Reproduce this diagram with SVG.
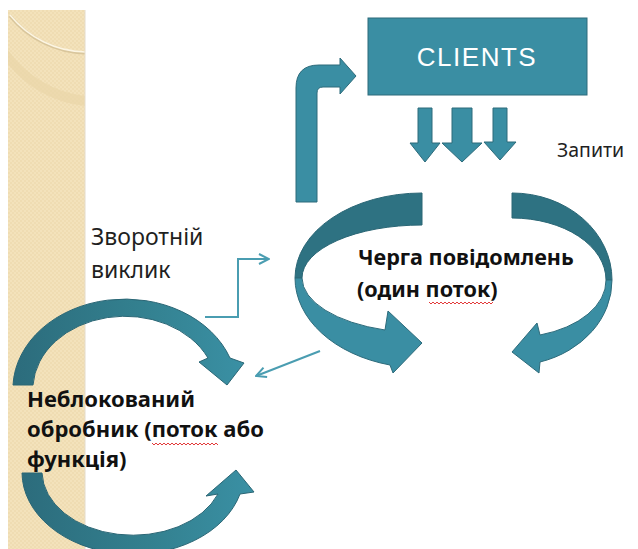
<svg xmlns="http://www.w3.org/2000/svg" width="638" height="549" viewBox="0 0 638 549">
  <defs>
    <pattern id="paper" width="4" height="4" patternUnits="userSpaceOnUse">
      <rect width="4" height="4" fill="#f3e2bb"/>
      <rect width="2" height="2" fill="#efdcb2"/>
      <rect x="2" y="2" width="2" height="2" fill="#efdcb2"/>
    </pattern>
    <linearGradient id="ribbonLR" x1="0" y1="0" x2="1" y2="0">
      <stop offset="0" stop-color="#2c6c7c"/>
      <stop offset="0.55" stop-color="#33808f"/>
      <stop offset="1" stop-color="#3a90a4"/>
    </linearGradient>
    <marker id="open" viewBox="0 0 12 12" refX="11" refY="6" markerWidth="12" markerHeight="12" markerUnits="userSpaceOnUse" orient="auto">
      <path d="M1,1 L11,6 L1,11" fill="none" stroke="#4a9db1" stroke-width="2"/>
    </marker>
    <style>
      .shape { fill: #3a8ea3; stroke: #2d6b7b; stroke-width: 1; }
      .back { fill: #2e7282; stroke: #2a6675; stroke-width: 1; }
      .grad { fill: url(#ribbonLR); stroke: #2a6675; stroke-width: 1; }
      .thin { fill: none; stroke: #4a9db1; stroke-width: 2; }
      .lbl { font-family: "Noto Sans", "Open Sans", "Liberation Sans", sans-serif; fill: #1f1f1f; }
      .bold { font-weight: bold; fill: #111; }
      .squiggle { fill: none; stroke: #e23a3a; stroke-width: 1; }
    </style>
  </defs>

  <!-- page background with the textured side strip -->
  <g id="background">
    <rect width="638" height="549" fill="#ffffff"/>
    <rect x="8" y="10" width="77" height="539" fill="url(#paper)"/>
    <path d="M8,50 A110,110 0 0 0 85,96 L85,106 A112,112 0 0 1 8,64 Z" fill="#e9d5a8" opacity="0.7"/>
    <path d="M10,16 A100,100 0 0 0 85,53" fill="none" stroke="#d9c69c" stroke-width="3"/>
    <path d="M10,15 A100,100 0 0 0 85,52" fill="none" stroke="#fcf5e2" stroke-width="1.5"/>
    <line x1="85" y1="10" x2="85" y2="549" stroke="#e4dccb" stroke-width="1"/>
  </g>

  <!-- clients box -->
  <g id="node-clients">
    <rect x="368" y="18" width="219" height="77" class="shape"/>
    <text x="477" y="66" text-anchor="middle" font-family="'Liberation Sans', Arial, sans-serif" font-size="26" letter-spacing="1.5" fill="#ffffff">CLIENTS</text>
  </g>

  <!-- message queue: two ribbon arrows around the label -->
  <g id="node-queue">
    <path class="back" d="M422,193 A127,85 0 0 0 295,278 L302,278 A120,53 0 0 1 422,225 Z"/>
    <path class="shape" d="M295,278 A127,90 0 0 0 390,365 L393,373 L422,343 L388,311 L385,330 A120,55 0 0 1 302,278 Z"/>
    <path class="back" d="M512,193 A100,87 0 0 1 612,280 L606,280 A94,62 0 0 0 512,218 Z"/>
    <path class="shape" d="M612,280 A100,85 0 0 1 540,362 L539,373 L512,352 L537,323 L540,335 A94,57 0 0 0 606,280 Z"/>
    <text class="lbl bold" font-size="21.6" x="358" y="265">Черга повідомлень</text>
    <text class="lbl bold" font-size="21.6" x="357" y="297">(один поток)</text>
    <path class="squiggle" d="M429,302 l2,2 l2,-2 l2,2 l2,-2 l2,2 l2,-2 l2,2 l2,-2 l2,2 l2,-2 l2,2 l2,-2 l2,2 l2,-2 l2,2 l2,-2 l2,2 l2,-2 l2,2 l2,-2 l2,2 l2,-2 l2,2 l2,-2 l2,2 l2,-2 l2,2 l2,-2 l2,2 l2,-2 l2,2 l2,-2"/>
  </g>

  <!-- non-blocking handler: two ribbon arrows around the label -->
  <g id="node-handler">
    <path class="grad" d="M13,385 A112,90 0 0 1 230,358 L244,363 L227,385 L199,362 L208,358 A92,73 0 0 0 33,385 Z"/>
    <path class="grad" d="M22,473 A111,82 0 0 0 240,494 L254,492 L236,470 L206,496 L218,494 A91,64 0 0 1 42,473 Z"/>
    <text class="lbl bold" font-size="22" x="27" y="407">Неблокований</text>
    <text class="lbl bold" font-size="22" x="27" y="437">обробник (поток або</text>
    <text class="lbl bold" font-size="22" x="27" y="467">функція)</text>
    <path class="squiggle" d="M152,443 l2,2 l2,-2 l2,2 l2,-2 l2,2 l2,-2 l2,2 l2,-2 l2,2 l2,-2 l2,2 l2,-2 l2,2 l2,-2 l2,2 l2,-2 l2,2 l2,-2 l2,2 l2,-2 l2,2 l2,-2 l2,2 l2,-2 l2,2 l2,-2 l2,2 l2,-2 l2,2 l2,-2 l2,2 l2,-2 l2,2"/>
  </g>

  <!-- free-standing labels -->
  <g id="label-requests">
    <text class="lbl" font-size="19.5" x="557" y="157">Запити</text>
  </g>
  <g id="label-callback">
    <text class="lbl" font-size="23" x="91" y="245">Зворотній</text>
    <text class="lbl" font-size="23" x="91" y="278">виклик</text>
  </g>

  <!-- connectors -->
  <g id="connectors">
    <!-- queue back up to the clients -->
    <path class="shape" d="M296,202 L296,88 Q296,65 319,65 L340,65 L340,58 L356,76 L340,94 L340,87 L323,87 Q317,87 317,93 L317,202 Z"/>
    <!-- requests from the clients into the queue -->
    <path class="shape" d="M418,108 L432,108 L432,143 L440,143 L425,162 L410,143 L418,143 Z"/>
    <path class="shape" d="M452,108 L472,108 L472,143 L482,143 L462,162 L442,143 L452,143 Z"/>
    <path class="shape" d="M493,108 L507,108 L507,142 L516,142 L500,160 L484,142 L493,142 Z"/>
    <!-- callback and dispatch lines -->
    <polyline class="thin" points="205,317 238,317 238,259 269,259" marker-end="url(#open)"/>
    <line class="thin" x1="320" y1="351" x2="256" y2="376" marker-end="url(#open)"/>
  </g>
</svg>
